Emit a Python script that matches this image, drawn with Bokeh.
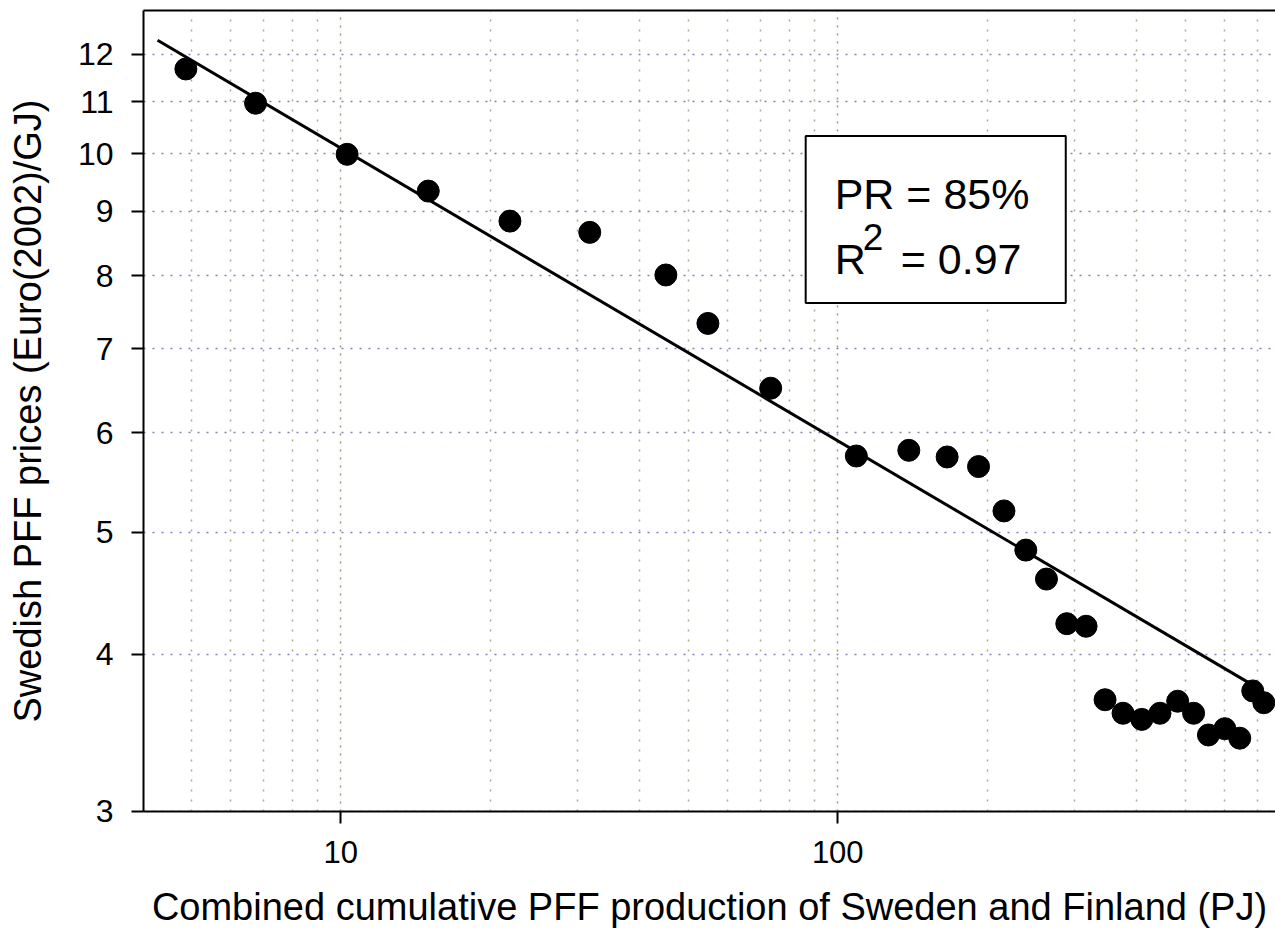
from bokeh.plotting import figure
from bokeh.embed import file_html
from bokeh.resources import INLINE
from bokeh.models import (FixedTicker, LogAxis, BoxAnnotation, Label, Range1d,
                          PrintfTickFormatter)

# --- data ---
production = [4.88, 6.74, 10.3, 15.0, 21.9, 31.7, 45.1, 54.8, 73.3, 109, 139, 166,
              192, 216, 239, 263, 289, 316, 345, 375, 409, 445, 483, 520, 557,
              601, 644, 684, 720]
price = [11.68, 10.97, 9.99, 9.34, 8.84, 8.66, 8.01, 7.33, 6.51, 5.75, 5.81, 5.74,
         5.64, 5.20, 4.84, 4.59, 4.23, 4.21, 3.68, 3.59, 3.55, 3.59, 3.67, 3.59,
         3.45, 3.49, 3.43, 3.74, 3.66]
fit_x = [4.28, 716]
fit_y = [12.31, 3.74]
x_major = [10, 100]
x_minor = [5, 6, 7, 8, 9, 20, 30, 40, 50, 60, 70, 80, 90, 200, 300, 400, 500, 600, 700]
y_ticks = [3, 4, 5, 6, 7, 8, 9, 10, 11, 12]
pr_text = "PR = 85%"
r2_base = "R"
r2_sup = "2"
r2_rest = "= 0.97"
x_title = "Combined cumulative PFF production of Sweden and Finland (PJ)"
y_title = "Swedish PFF prices (Euro(2002)/GJ)"

FONT = "Liberation Sans"

p = figure(width=1275, height=938, x_axis_type="log", y_axis_type="log",
           x_range=Range1d(4.01, 760), y_range=Range1d(2.999, 13.0),
           output_backend="svg", toolbar_location=None,
           min_border_left=143, min_border_right=0, min_border_top=10,
           min_border_bottom=127)
p.outline_line_color = None
p.background_fill_color = "white"
p.border_fill_color = "white"

xt = FixedTicker(ticks=x_major, minor_ticks=x_minor)
yt = FixedTicker(ticks=y_ticks, minor_ticks=[])
p.xaxis.ticker = xt
p.yaxis.ticker = yt
p.xaxis.formatter = PrintfTickFormatter(format="%d")
p.yaxis.formatter = PrintfTickFormatter(format="%d")

for ax in (p.xaxis[0], p.yaxis[0]):
    ax.axis_line_width = 2
    ax.axis_line_color = "black"
    ax.major_tick_line_width = 2
    ax.major_tick_line_color = "black"
    ax.major_tick_in = 0
    ax.major_tick_out = 12
    ax.minor_tick_line_color = None
    ax.major_label_text_font = FONT
    ax.major_label_text_color = "black"
    ax.axis_label_text_font = FONT
    ax.axis_label_text_font_style = "normal"
    ax.axis_label_text_font_size = "38px"
    ax.axis_label_text_color = "black"

p.xaxis.major_label_text_font_size = "31px"
p.yaxis.major_label_text_font_size = "32px"
p.xaxis.major_label_standoff = 17
p.yaxis.major_label_standoff = 18
p.xaxis.axis_label = x_title
p.yaxis.axis_label = y_title
p.xaxis.axis_label_standoff = 20
p.yaxis.axis_label_standoff = 26

top_axis = LogAxis(ticker=FixedTicker(ticks=[]), axis_line_width=2, axis_line_color="black",
                   major_tick_in=0, major_tick_out=0, minor_tick_in=0, minor_tick_out=0,
                   major_label_text_font_size="0px", major_label_standoff=0)
p.add_layout(top_axis, "above")

# grids
p.xgrid.ticker = xt
p.xgrid.grid_line_color = "#98987a"
p.xgrid.grid_line_dash = "2 6"
p.xgrid.grid_line_width = 1.5
p.xgrid.minor_grid_line_color = "#aaaa90"
p.xgrid.minor_grid_line_dash = "2 8"
p.xgrid.minor_grid_line_width = 1.5
p.ygrid.ticker = yt
p.ygrid.grid_line_color = "#8080c0"
p.ygrid.grid_line_dash = "2 7"
p.ygrid.grid_line_width = 1.5

# fit line and points
p.line(fit_x, fit_y, line_color="black", line_width=3)
p.scatter(production, price, size=22, fill_color="black", line_color="black")

# annotation box
p.add_layout(BoxAnnotation(left=86.2, right=287.6, bottom=7.61, top=10.33,
                           fill_color="white", fill_alpha=1.0,
                           line_color="black", line_alpha=1.0, line_width=2))
p.add_layout(Label(x=98.6, y=9.29, text=pr_text, text_font=FONT, text_font_size="43px",
                   text_color="black", text_baseline="alphabetic", text_align="left"))
p.add_layout(Label(x=98.6, y=8.25, text=r2_base, text_font=FONT, text_font_size="43px",
                   text_color="black", text_baseline="alphabetic", text_align="left"))
p.add_layout(Label(x=112.3, y=8.59, text=r2_sup, text_font=FONT, text_font_size="37px",
                   text_color="black", text_baseline="alphabetic", text_align="left"))
p.add_layout(Label(x=133.9, y=8.25, text=r2_rest, text_font=FONT, text_font_size="43px",
                   text_color="black", text_baseline="alphabetic", text_align="left"))

open("out.html", "w").write(file_html(p, INLINE))
